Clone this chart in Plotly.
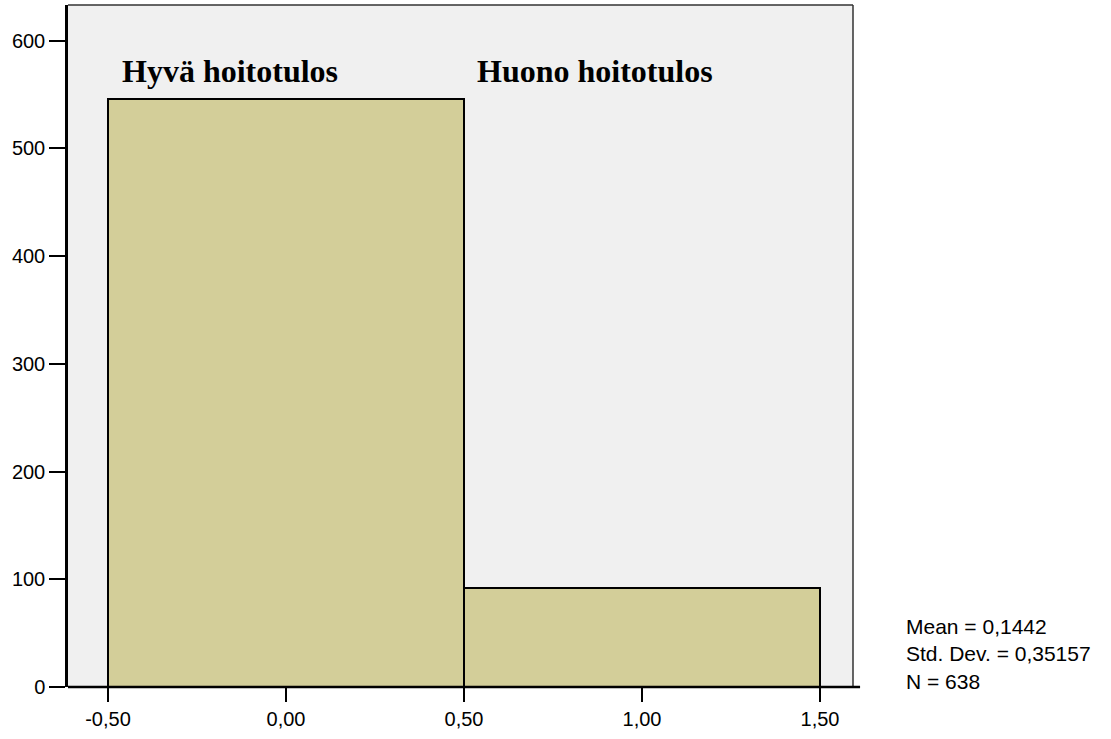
import plotly.graph_objects as go

# Data
bin_centers = [0.0, 1.0]
counts = [546, 92]
x_tick_vals = [-0.5, 0.0, 0.5, 1.0, 1.5]
x_tick_text = ["-0,50", "0,00", "0,50", "1,00", "1,50"]
y_tick_vals = [0, 100, 200, 300, 400, 500, 600]
y_tick_text = ["0", "100", "200", "300", "400", "500", "600"]
group_labels = ["Hyvä hoitotulos", "Huono hoitotulos"]
stats_text = ["Mean = 0,1442", "Std. Dev. = 0,35157", "N = 638"]

fig = go.Figure()
fig.add_trace(go.Bar(
    x=bin_centers, y=counts, width=1.0,
    marker=dict(color="#D3CE99", line=dict(color="black", width=2)),
    hoverinfo="skip", showlegend=False,
))

label_font = dict(family="Liberation Serif, Times New Roman, serif", size=32, color="black")
fig.add_annotation(x=-0.466, y=572, xref="x", yref="y", text="<b>%s</b>" % group_labels[0],
                   showarrow=False, xanchor="left", yanchor="middle", font=label_font)
fig.add_annotation(x=0.531, y=572, xref="x", yref="y", text="<b>%s</b>" % group_labels[1],
                   showarrow=False, xanchor="left", yanchor="middle", font=label_font)

fig.add_annotation(x=1.065, y=-0.012, xref="paper", yref="paper", text="<br>".join(stats_text),
                   showarrow=False, xanchor="left", yanchor="bottom", align="left",
                   font=dict(family="Liberation Sans, Arial, sans-serif", size=21, color="black"))

# frame: thin top/right, extended bottom axis line
fig.add_shape(type="line", xref="paper", yref="paper", x0=0, x1=1, y0=1, y1=1,
              line=dict(color="#333333", width=1.5))
fig.add_shape(type="line", xref="paper", yref="paper", x0=1, x1=1, y0=0, y1=1,
              line=dict(color="#333333", width=1.5))
fig.add_shape(type="line", xref="paper", yref="paper", x0=0, x1=1.009, y0=0, y1=0,
              line=dict(color="black", width=2.5))

axis_font = dict(family="Liberation Sans, Arial, sans-serif", size=20, color="black")
fig.update_layout(
    width=1111, height=739,
    margin=dict(l=68, r=258, t=5, b=52),
    paper_bgcolor="white", plot_bgcolor="#F0F0F0",
    bargap=0,
    xaxis=dict(range=[-0.6124, 1.5927], tickvals=x_tick_vals, ticktext=x_tick_text,
               ticks="outside", ticklen=14, tickwidth=2, tickcolor="black",
               showline=False, showgrid=False, zeroline=False, tickfont=axis_font),
    yaxis=dict(range=[0, 633], tickvals=y_tick_vals, ticktext=y_tick_text,
               ticks="outside", ticklen=16, tickwidth=2, tickcolor="black",
               showline=True, linecolor="black", linewidth=2.5,
               showgrid=False, zeroline=False, tickfont=axis_font),
)

fig.write_html("out.html", config={"displayModeBar": False},
               post_script="document.body.style.margin='0';document.body.style.overflow='hidden';")
